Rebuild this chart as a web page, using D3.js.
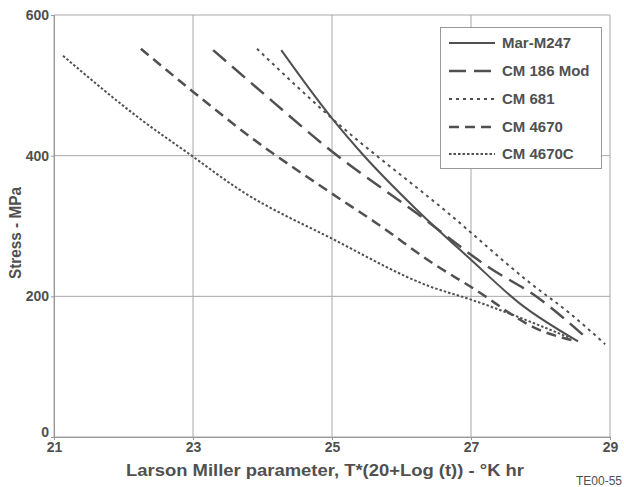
<!DOCTYPE html>
<html>
<head>
<meta charset="utf-8">
<script src="https://cdn.jsdelivr.net/npm/d3@7"></script>
<style>
  body { margin: 0; background: #fff; }
  svg { display: block; font-family: "Liberation Sans", Arial, sans-serif; }
</style>
</head>
<body>
<svg id="chart" width="624" height="487"></svg>
<script>
// values: [Larson Miller parameter, stress MPa]
const marM247 = [[24.27, 550], [25.0, 453], [25.45, 401], [26.2, 325], [27.0, 252], [27.7, 190], [28.54, 136]];
const cm186Mod = [[23.29, 550], [23.9, 498], [25.0, 406], [26.22, 318], [27.26, 241], [27.95, 199], [28.66, 141]];
const cm681 = [[23.92, 552], [25.0, 453], [26.7, 316], [27.85, 219], [28.42, 176], [28.93, 132]];
const cm4670 = [[22.25, 552], [23.0, 491], [23.82, 427], [25.0, 346], [25.64, 304], [26.48, 245], [26.99, 214], [27.99, 152], [28.52, 136]];
const cm4670C = [[21.13, 542], [22.23, 453], [22.98, 400], [23.68, 351], [25.0, 282], [26.41, 214], [27.01, 195], [27.85, 164], [28.42, 141]];

const seriesNames = ['Mar-M247', 'CM 186 Mod', 'CM 681', 'CM 4670', 'CM 4670C'];
const seriesData = [marM247, cm186Mod, cm681, cm4670, cm4670C];
const xTicks = [21, 23, 25, 27, 29];
const yTicks = [0, 200, 400, 600];

const dashes = ['none', '17,8', '3,4', '10,6', '2.5,2'];
const widths = [2, 2.5, 2, 2.5, 2];
const ink = '#505050';

const svg = d3.select('#chart');
const margin = { top: 15, right: 14, bottom: 50, left: 54 };
const width = 624, height = 487;

const x = d3.scaleLinear().domain([21, 29]).range([margin.left, width - margin.right]);
const y = d3.scaleLinear().domain([0, 600]).range([height - margin.bottom, margin.top]);

// grid
svg.append('g').selectAll('line').data(xTicks).enter().append('line')
  .attr('x1', d => x(d)).attr('x2', d => x(d))
  .attr('y1', y(0)).attr('y2', y(600))
  .attr('stroke', '#a8a8a8').attr('stroke-width', 1);
svg.append('g').selectAll('line').data(yTicks).enter().append('line')
  .attr('x1', x(21)).attr('x2', x(29))
  .attr('y1', d => y(d)).attr('y2', d => y(d))
  .attr('stroke', '#a8a8a8').attr('stroke-width', 1);

// axes
const xAxis = svg.append('g').attr('transform', `translate(0,${y(0)})`)
  .call(d3.axisBottom(x).tickValues(xTicks).tickSize(3).tickPadding(2));
const yAxis = svg.append('g').attr('transform', `translate(${x(21)},0)`)
  .call(d3.axisLeft(y).tickValues(yTicks).tickSize(3).tickPadding(2));
[xAxis, yAxis].forEach(g => {
  g.select('.domain').attr('stroke', '#999');
  g.selectAll('.tick line').attr('stroke', '#999');
  g.selectAll('.tick text').attr('fill', ink).style('font-size', '14px').style('font-weight', 'bold');
});
// the "0" sits a little above the axis so it clears the "21"
yAxis.selectAll('.tick').filter(d => d === 0).select('text').attr('dy', '-0.05em');

// curves
const line = d3.line().x(d => x(d[0])).y(d => y(d[1])).curve(d3.curveMonotoneX);
seriesData.forEach((s, i) => {
  svg.append('path').datum(s)
    .attr('d', line)
    .attr('fill', 'none')
    .attr('stroke', ink)
    .attr('stroke-width', widths[i])
    .attr('stroke-dasharray', dashes[i]);
});

// legend
const lg = svg.append('g');
lg.append('rect').attr('x', 440.5).attr('y', 27.5).attr('width', 161).attr('height', 141)
  .attr('fill', '#fff').attr('stroke', '#999');
const rowY = [43, 71, 99, 127, 154];
seriesNames.forEach((n, i) => {
  lg.append('line').attr('x1', 449).attr('x2', 495).attr('y1', rowY[i]).attr('y2', rowY[i])
    .attr('stroke', ink).attr('stroke-width', widths[i]).attr('stroke-dasharray', dashes[i]);
  lg.append('text').attr('x', 502).attr('y', rowY[i] + 5).text(n)
    .attr('fill', ink).style('font-size', '15px').style('font-weight', 'bold');
});

// titles
svg.append('text').attr('x', 126).attr('y', 476)
  .attr('textLength', 398).attr('lengthAdjust', 'spacingAndGlyphs')
  .attr('fill', ink).style('font-size', '16px').style('font-weight', 'bold')
  .text('Larson Miller parameter, T*(20+Log (t)) - °K hr');
svg.append('text').attr('transform', 'translate(21,233) rotate(-90)').attr('text-anchor', 'middle')
  .attr('textLength', 92).attr('lengthAdjust', 'spacingAndGlyphs')
  .attr('fill', ink).style('font-size', '17px').style('font-weight', 'bold')
  .text('Stress - MPa');
svg.append('text').attr('x', 622).attr('y', 485).attr('text-anchor', 'end')
  .attr('fill', ink).style('font-size', '12px')
  .text('TE00-55');
</script>
</body>
</html>
